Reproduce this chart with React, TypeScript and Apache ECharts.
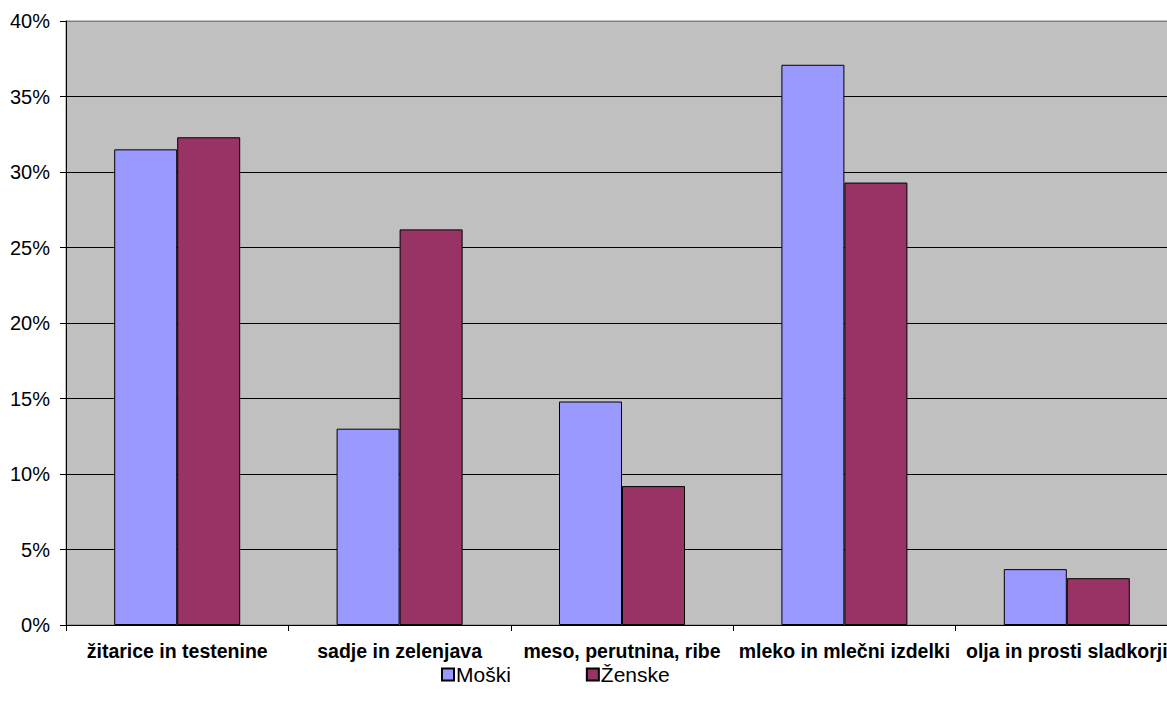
import React, { useEffect, useRef } from "react";
import * as echarts from "echarts";

const categories = [
  "žitarice in testenine",
  "sadje in zelenjava",
  "meso, perutnina, ribe",
  "mleko in mlečni izdelki",
  "olja in prosti sladkorji",
];
const moski = [31.5, 13.0, 14.8, 37.1, 3.7];
const zenske = [32.3, 26.2, 9.2, 29.3, 3.1];
const seriesNames = ["Moški", "Ženske"];

export default function App() {
  const ref = useRef<HTMLDivElement>(null);
  useEffect(() => {
    document.body.style.margin = "0";
    const chart = echarts.init(ref.current!, null, { renderer: "svg" });
    chart.setOption({
      animation: false,
      backgroundColor: "#ffffff",
      textStyle: { fontFamily: "Liberation Sans, Arial, sans-serif" },
      grid: {
        left: 66,
        top: 21,
        width: 1112,
        height: 604,
        outerBoundsMode: "none",
        containLabel: false,
        show: true,
        backgroundColor: "#C0C0C0",
        borderColor: "#808080",
        borderWidth: 1,
      },
      legend: {
        left: 436,
        top: 659,
        itemWidth: 12,
        itemHeight: 12,
        itemGap: 75,
        icon: "rect",
        textStyle: { fontSize: 21, lineHeight: 21, color: "#000", padding: [0, 0, 0, -3] },
        data: seriesNames,
      },
      xAxis: {
        type: "category",
        data: categories,
        axisLine: { lineStyle: { color: "#000", width: 1 } },
        axisTick: { show: true, length: 6, lineStyle: { color: "#000" }, alignWithLabel: false },
        axisLabel: {
          color: "#000",
          fontWeight: "bold",
          fontSize: 19.5,
          lineHeight: 19.5,
          margin: 16,
          interval: 0,
        },
      },
      yAxis: {
        type: "value",
        min: 0,
        max: 40,
        interval: 5,
        axisLine: { show: true, lineStyle: { color: "#000", width: 1 } },
        axisTick: { show: true, length: 6, lineStyle: { color: "#000" } },
        axisLabel: {
          color: "#000",
          fontSize: 20,
          margin: 16,
          formatter: (v: number) => v + "%",
        },
        splitLine: {
          show: true,
          lineStyle: {
            color: ["#000", "#000", "#000", "#000", "#000", "#000", "#000", "#000", "#808080"],
            width: 1,
          },
        },
      },
      series: [
        {
          name: seriesNames[0],
          type: "bar",
          data: moski,
          barWidth: 63,
          barGap: "0%",
          itemStyle: { color: "#9999FF", borderColor: "#000", borderWidth: 1 },
        },
        {
          name: seriesNames[1],
          type: "bar",
          data: zenske,
          barWidth: 63,
          barGap: "0%",
          itemStyle: { color: "#993366", borderColor: "#000", borderWidth: 1 },
        },
      ],
    });
    return () => chart.dispose();
  }, []);
  return <div ref={ref} style={{ width: 1167, height: 711 }} />;
}
